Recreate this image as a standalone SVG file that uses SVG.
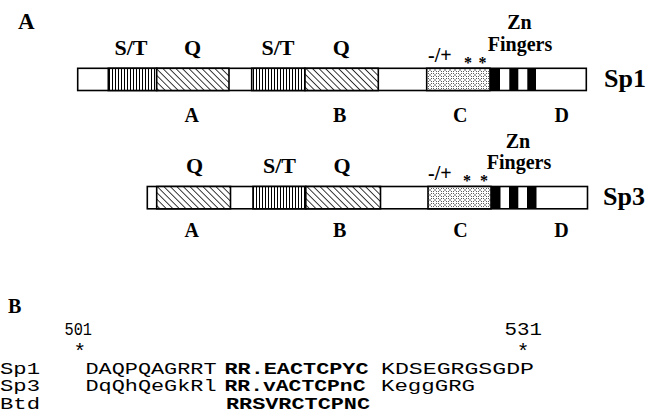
<svg xmlns="http://www.w3.org/2000/svg" width="648" height="417" viewBox="0 0 648 417">
<style>
.lbl{font-family:"Liberation Serif",serif;font-weight:bold;font-size:22px;fill:#000;text-anchor:middle}
.zn{font-family:"Liberation Serif",serif;font-weight:bold;font-size:20px;fill:#000;text-anchor:middle}
.let{font-family:"Liberation Serif",serif;font-weight:bold;font-size:20px;fill:#000;text-anchor:middle}
.big{font-family:"Liberation Serif",serif;font-weight:bold;font-size:26px;fill:#000}
.sm{font-family:"Liberation Serif",serif;font-weight:bold;font-size:20px;fill:#000}
.star{font-family:"Liberation Serif",serif;font-weight:bold;font-size:16px;fill:#000;text-anchor:middle}
.seg{stroke:#000;stroke-width:1.6}
.mono{font-family:"Liberation Mono","Courier New",monospace;font-size:16.5px;fill:#000}
.monob{font-family:"Liberation Mono","Courier New",monospace;font-size:16.5px;font-weight:bold;fill:#000}
.mstar{font-family:"Liberation Mono","Courier New",monospace;font-size:21px;fill:#000;text-anchor:middle}
</style>
<defs>
<pattern id="vert" width="3" height="10" patternUnits="userSpaceOnUse"><rect width="3" height="10" fill="#fff"/><line x1="1.5" y1="0" x2="1.5" y2="10" stroke="#000" stroke-width="1"/></pattern>
<pattern id="diag" width="4.6" height="10" patternUnits="userSpaceOnUse" patternTransform="rotate(-45)"><rect width="4.6" height="10" fill="#fff"/><line x1="2.3" y1="0" x2="2.3" y2="10" stroke="#000" stroke-width="0.8"/></pattern>
<pattern id="dots" width="5" height="5" patternUnits="userSpaceOnUse"><rect width="5" height="5" fill="#fff"/><path d="M0.5 0.5L2 2M3 3L4.5 4.5M4.5 0.5L3 2M2 3L0.5 4.5" stroke="#333" stroke-width="0.8"/></pattern>
</defs>
<text x="18" y="29" class="big" style="font-size:23px">A</text>
<g id="sp1">
<rect class="seg" x="77.7" y="68.3" width="508.6" height="22.2" fill="#fff"/>
<rect class="seg" x="108.3" y="68.3" width="48.4" height="22.2" fill="url(#vert)"/>
<rect class="seg" x="156.7" y="68.3" width="72.3" height="22.2" fill="url(#diag)"/>
<rect class="seg" x="251.7" y="68.3" width="53.3" height="22.2" fill="url(#vert)"/>
<rect class="seg" x="305" y="68.3" width="73.3" height="22.2" fill="url(#diag)"/>
<rect class="seg" x="426.7" y="68.3" width="63.3" height="22.2" fill="url(#dots)"/>
<rect x="490" y="68.3" width="10" height="22.2" fill="#000"/>
<rect x="509.3" y="68.3" width="9" height="22.2" fill="#000"/>
<rect x="527.3" y="68.3" width="8.7" height="22.2" fill="#000"/>
<text x="131" y="55" class="lbl">S/T</text>
<text x="192.5" y="55" class="lbl">Q</text>
<text x="278" y="55" class="lbl">S/T</text>
<text x="341.3" y="55" class="lbl">Q</text>
<text x="519.5" y="29.3" class="zn">Zn</text>
<text x="520" y="50.5" class="zn">Fingers</text>
<text x="428" y="61.5" class="sm">-/+</text>
<text x="468" y="68" class="star">*</text>
<text x="482.5" y="68" class="star">*</text>
<text x="191.7" y="121.5" class="let">A</text>
<text x="339.7" y="121.5" class="let">B</text>
<text x="460.2" y="121.5" class="let">C</text>
<text x="561.7" y="121.5" class="let">D</text>
<text x="604" y="87.3" class="big">Sp1</text>
</g>
<g id="sp3">
<rect class="seg" x="147.3" y="186.5" width="440.2" height="22.3" fill="#fff"/>
<rect class="seg" x="156.7" y="186.5" width="73.8" height="22.3" fill="url(#diag)"/>
<rect class="seg" x="253" y="186.5" width="52.8" height="22.3" fill="url(#vert)"/>
<rect class="seg" x="305.8" y="186.5" width="74.7" height="22.3" fill="url(#diag)"/>
<rect class="seg" x="428" y="186.5" width="63" height="22.3" fill="url(#dots)"/>
<rect x="491" y="186.5" width="9.5" height="22.3" fill="#000"/>
<rect x="509" y="186.5" width="9.3" height="22.3" fill="#000"/>
<rect x="527" y="186.5" width="9.5" height="22.3" fill="#000"/>
<text x="194.5" y="173.3" class="lbl">Q</text>
<text x="279.5" y="173.3" class="lbl">S/T</text>
<text x="342" y="173.3" class="lbl">Q</text>
<text x="518" y="147.5" class="zn">Zn</text>
<text x="519" y="168.5" class="zn">Fingers</text>
<text x="428" y="179.7" class="sm">-/+</text>
<text x="467" y="186" class="star">*</text>
<text x="484" y="186" class="star">*</text>
<text x="191.7" y="236.5" class="let">A</text>
<text x="339.7" y="236.5" class="let">B</text>
<text x="460.5" y="236.5" class="let">C</text>
<text x="561.5" y="236.5" class="let">D</text>
<text x="603" y="205" class="big">Sp3</text>
</g>
<g id="alignment">
<text x="8" y="313.3" class="big" style="font-size:20px">B</text>
<text x="64.5" y="335" class="mono" style="font-size:17.5px" textLength="27.5" lengthAdjust="spacingAndGlyphs">501</text>
<text x="504.5" y="335" class="mono" style="font-size:17.5px" textLength="37.5" lengthAdjust="spacingAndGlyphs">531</text>
<text x="79.7" y="358" class="mstar">*</text>
<text x="523" y="358" class="mstar">*</text>
<text x="0" y="373.8" class="mono" textLength="40" lengthAdjust="spacingAndGlyphs">Sp1</text>
<text x="85.5" y="373.8" class="mono" textLength="131" lengthAdjust="spacingAndGlyphs">DAQPQAGRRT</text>
<text x="224.5" y="373.8" class="monob" textLength="144" lengthAdjust="spacingAndGlyphs">RR.EACTCPYC</text>
<text x="381" y="373.8" class="mono" textLength="153" lengthAdjust="spacingAndGlyphs">KDSEGRGSGDP</text>
<text x="0" y="391.3" class="mono" textLength="40" lengthAdjust="spacingAndGlyphs">Sp3</text>
<text x="85.5" y="391.3" class="mono" textLength="131" lengthAdjust="spacingAndGlyphs">DqQhQeGkRl</text>
<text x="224.5" y="391.3" class="monob" textLength="141" lengthAdjust="spacingAndGlyphs">RR.vACTCPnC</text>
<text x="381" y="391.3" class="mono" textLength="94" lengthAdjust="spacingAndGlyphs">KeggGRG</text>
<text x="0" y="409" class="mono" textLength="40" lengthAdjust="spacingAndGlyphs">Btd</text>
<text x="226" y="409" class="monob" textLength="144" lengthAdjust="spacingAndGlyphs">RRSVRCTCPNC</text>
</g>
</svg>
